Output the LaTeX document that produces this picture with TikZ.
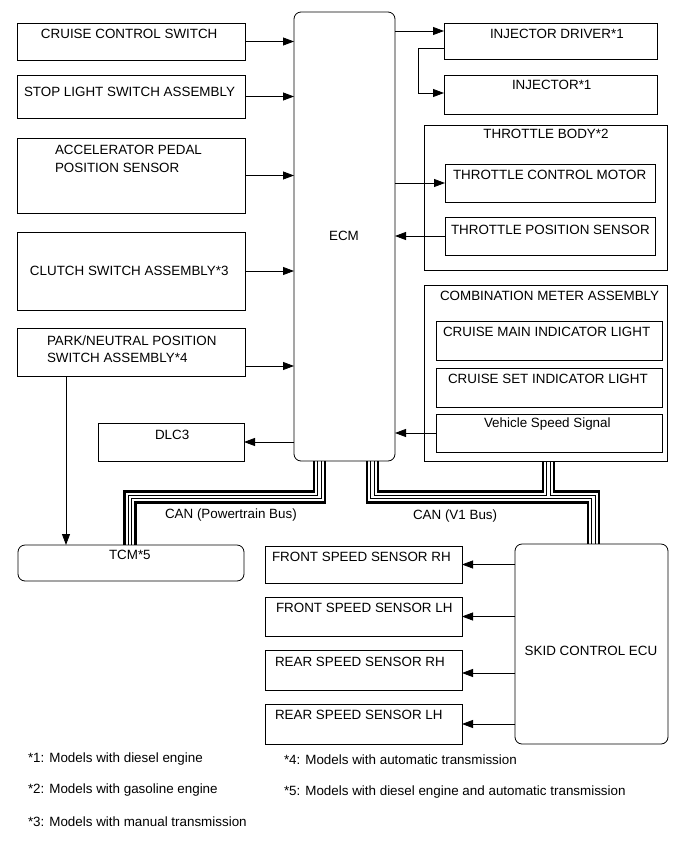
\documentclass[tikz,border=0pt]{standalone}
\usepackage{fontspec}
\setmainfont{Liberation Sans}
\usetikzlibrary{arrows.meta,calc,backgrounds}
\begin{document}
\begin{tikzpicture}[x=1pt,y=-1pt,
  box/.style={draw, line width=0.8pt, inner sep=0pt, outer sep=0pt, anchor=north west},
  rbox/.style={box, rounded corners=7pt},
  txt/.style={inner sep=0pt, outer sep=0pt, anchor=base west, font=\fontsize{13.4}{16}\selectfont},
  ctxt/.style={txt, anchor=base},
  arr/.style={line width=0.8pt, -{Triangle[length=11pt,width=8pt]}},
  busA/.style={line width=13.3pt, line join=miter},
  busB/.style={line width=8.7pt, white, line join=miter},
  busC/.style={line width=4.3pt, line join=miter},
  busD/.style={line width=2.3pt, white, line join=miter},
]
\useasboundingbox (0,0) rectangle (691,855);

% left column
\node[box, minimum width=228pt, minimum height=37pt] (cruise) at (17,23) {};
\node[box, minimum width=228pt, minimum height=43pt] (stop) at (17,75) {};
\node[box, minimum width=228pt, minimum height=75pt] (accel) at (17,138) {};
\node[box, minimum width=228pt, minimum height=78pt] (clutch) at (17,232) {};
\node[box, minimum width=228pt, minimum height=48pt] (park) at (17,328) {};
\node[box, minimum width=146pt, minimum height=38pt] (dlc) at (98,423) {};

% ECM
\node[rbox, minimum width=101pt, minimum height=449pt] (ecm) at (294,12) {};

% right column
\node[box, minimum width=213pt, minimum height=36pt] (driver) at (444,23) {};
\node[box, minimum width=213pt, minimum height=39pt] (injector) at (444,75) {};
\node[box, minimum width=243pt, minimum height=145pt] (tbody) at (424,125) {};
\node[box, minimum width=210pt, minimum height=38pt] (motor) at (445,164) {};
\node[box, minimum width=210pt, minimum height=38pt] (tps) at (445,217) {};
\node[box, minimum width=243pt, minimum height=176pt] (meter) at (424,285) {};
\node[box, minimum width=226pt, minimum height=39pt] (cmain) at (436,321) {};
\node[box, minimum width=226pt, minimum height=39pt] (cset) at (436,368) {};
\node[box, minimum width=226pt, minimum height=38pt] (vss) at (436,414) {};

% bottom
\node[rbox, minimum width=226pt, minimum height=36pt] (tcm) at (18,545) {};
\node[box, minimum width=197pt, minimum height=37pt] (frh) at (265,546) {};
\node[box, minimum width=197pt, minimum height=39pt] (flh) at (265,597) {};
\node[box, minimum width=197pt, minimum height=40pt] (rrh) at (265,650) {};
\node[box, minimum width=197pt, minimum height=40pt] (rlh) at (265,704) {};
\node[rbox, minimum width=153pt, minimum height=200pt] (skid) at (515,544) {};

% texts
\node[txt] (tcruise) at (41,38) {CRUISE CONTROL SWITCH};
\node[txt] (tstop) at (24,96) {STOP LIGHT SWITCH ASSEMBLY};
\node[txt] (taccel1) at (55,154) {ACCELERATOR PEDAL};
\node[txt] (taccel2) at (55,172) {POSITION SENSOR};
\node[txt] (tclutch) at (30,275) {CLUTCH SWITCH ASSEMBLY*3};
\node[txt] (tpark1) at (47,345) {PARK/NEUTRAL POSITION};
\node[txt] (tpark2) at (47,362) {SWITCH ASSEMBLY*4};
\node[txt] (tdlc) at (155,439) {DLC3};
\node[ctxt] (tecm) at (344,240) {ECM};
\node[txt] (tdriver) at (490,38) {INJECTOR DRIVER*1};
\node[txt] (tinj) at (512,89) {INJECTOR*1};
\node[ctxt] (ttbody) at (546,138) {THROTTLE BODY*2};
\node[txt] (tmotor) at (453,179) {THROTTLE CONTROL MOTOR};
\node[txt] (ttps) at (451,234) {THROTTLE POSITION SENSOR};
\node[txt] (tmeter) at (440,300) {COMBINATION METER ASSEMBLY};
\node[txt] (tcmain) at (443,336) {CRUISE MAIN INDICATOR LIGHT};
\node[txt] (tcset) at (448,383) {CRUISE SET INDICATOR LIGHT};
\node[txt] (tvss) at (484,427) {Vehicle Speed Signal};
\node[txt] (ttcm) at (109,559) {TCM*5};
\node[txt] (tcanp) at (165,518) {CAN (Powertrain Bus)};
\node[txt] (tcanv) at (413,519) {CAN (V1 Bus)};
\node[txt] (tfrh) at (272,561) {FRONT SPEED SENSOR RH};
\node[txt] (tflh) at (276,612) {FRONT SPEED SENSOR LH};
\node[txt] (trrh) at (275,666) {REAR SPEED SENSOR RH};
\node[txt] (trlh) at (275,719) {REAR SPEED SENSOR LH};
\node[ctxt] (tskid) at (591,655) {SKID CONTROL ECU};
\node[txt] (fn1) at (28,762) {*1: Models with diesel engine};
\node[txt] (fn2) at (28,793) {*2: Models with gasoline engine};
\node[txt] (fn3) at (28,826) {*3: Models with manual transmission};
\node[txt] (fn4) at (284,764) {*4: Models with automatic transmission};
\node[txt] (fn5) at (284,795) {*5: Models with diesel engine and automatic transmission};

% arrows into ECM
\draw[arr] (cruise.east) -- (cruise.east -| ecm.west);
\draw[arr] (stop.east) -- (stop.east -| ecm.west);
\draw[arr] (accel.east) -- (accel.east -| ecm.west);
\draw[arr] (clutch.east) -- (clutch.east -| ecm.west);
\coordinate (parkOut) at ($(park.north east)+(0,38)$);
\draw[arr] (parkOut) -- (parkOut -| ecm.west);
\draw[arr] (dlc.east -| ecm.west) -- (dlc.east);

% injector
\coordinate (dIn) at ($(driver.north west)+(0,8)$);
\draw[arr] (ecm.east |- dIn) -- (dIn);
\coordinate (dOut) at ($(driver.north west)+(0,25)$);
\coordinate (iIn) at ($(injector.north west)+(0,18)$);
\draw[arr] (dOut) -- ++(-26,0) |- (iIn);

% throttle
\draw[arr] (ecm.east |- motor.west) -- (motor.west);
\draw[arr] (tps.west) -- (tps.west -| ecm.east);
\draw[arr] (vss.west) -- (vss.west -| ecm.east);

% park to TCM
\coordinate (pk) at ($(park.south west)+(49,0)$);
\draw[arr] (pk) -- (pk |- tcm.north);

% speed sensors
\coordinate (rrIn) at ($(rrh.east)+(0,3)$);
\draw[arr] (skid.west |- frh.east) -- (frh.east);
\draw[arr] (skid.west |- flh.east) -- (flh.east);
\draw[arr] (skid.west |- rrIn) -- (rrIn);
\draw[arr] (skid.west |- rlh.east) -- (rlh.east);

% CAN buses
\coordinate (ptA) at ($(ecm.south west)+(25.6,0)$);
\coordinate (ptB) at ($(tcm.north west)+(112,0)$);
\coordinate (v1A) at ($(ecm.south west)+(78.6,0)$);
\coordinate (v1B) at ($(meter.south west)+(124.5,0)$);
\coordinate (v1C) at ($(skid.north west)+(78.4,0)$);
\begin{pgfonlayer}{background}
\foreach \s in {busA,busB,busC,busD}{
  \draw[\s] (ptA) -- ++(0,36) -| (ptB) (v1A) -- ++(0,36) -| (v1C) (v1B) -- ++(0,36);
}
\end{pgfonlayer}
\end{tikzpicture}
\end{document}
